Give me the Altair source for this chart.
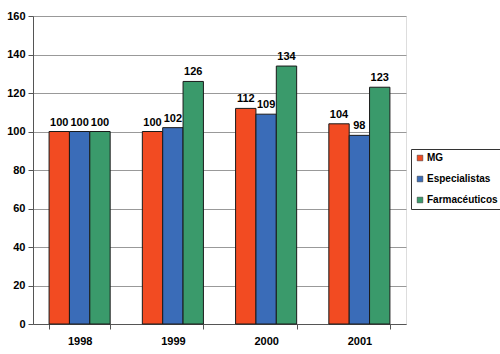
import altair as alt
import pandas as pd

years = ["1998", "1999", "2000", "2001"]
series = ["MG", "Especialistas", "Farmacéuticos"]
mg = [100, 100, 112, 104]
esp = [100, 102, 109, 98]
farm = [100, 126, 134, 123]
colors = ["#F24B22", "#3A6CB8", "#3A9A6B"]

rows = []
for i, y in enumerate(years):
    for s, vals in zip(series, [mg, esp, farm]):
        rows.append({"year": y, "series": s, "value": vals[i]})
df = pd.DataFrame(rows)

FONT = "Liberation Sans"

x = alt.X("year:N", title=None, sort=years,
          scale=alt.Scale(paddingInner=0.345, paddingOuter=0.1725),
          axis=alt.Axis(labelAngle=0, labelFontWeight="bold", labelFont=FONT,
                        labelFontSize=11, labelColor="black", tickBand="extent",
                        domainColor="#555", tickColor="#555", tickSize=5,
                        labelPadding=6, grid=False))
xo = alt.XOffset("series:N", sort=series, scale=alt.Scale(paddingInner=0))
y = alt.Y("value:Q", title=None,
          scale=alt.Scale(domain=[0, 160], nice=False),
          axis=alt.Axis(values=list(range(0, 161, 20)), tickCount=9,
                        labelFontWeight="bold",
                        labelFont=FONT, labelFontSize=11, labelColor="black",
                        labelOverlap=False,
                        domainColor="#555", tickColor="#555", tickSize=5,
                        gridColor="#999", gridWidth=1, labelPadding=3))

bars = alt.Chart(df).mark_bar(stroke="#1a1a1a", strokeWidth=1).encode(
    x=x, xOffset=xo, y=y,
    color=alt.Color("series:N", sort=series, title=None,
                    scale=alt.Scale(domain=series, range=colors),
                    legend=alt.Legend(orient="none", legendX=378, legendY=133,
                                      symbolType="square", symbolSize=32,
                                      symbolStrokeColor="#333", symbolStrokeWidth=0.5,
                                      labelFont=FONT, labelFontWeight="bold",
                                      labelFontSize=10, labelColor="black",
                                      labelOffset=2,
                                      rowPadding=11, padding=4,
                                      strokeColor="#333", fillColor="white")),
)

labels = alt.Chart(df).mark_text(dy=-9, font=FONT, fontWeight="bold",
                                 fontSize=11, color="black").encode(
    x=x, xOffset=xo, y=y, text="value:Q")

chart = alt.layer(bars, labels).properties(
    width=373, height=308,
    padding={"left": 33, "top": 16, "right": 94, "bottom": 30},
    autosize=alt.AutoSizeParams(type="none"),
).configure_view(stroke="#999", strokeWidth=1).configure(background="white")

chart.save("out.html", embed_options={"renderer": "svg", "actions": False})
